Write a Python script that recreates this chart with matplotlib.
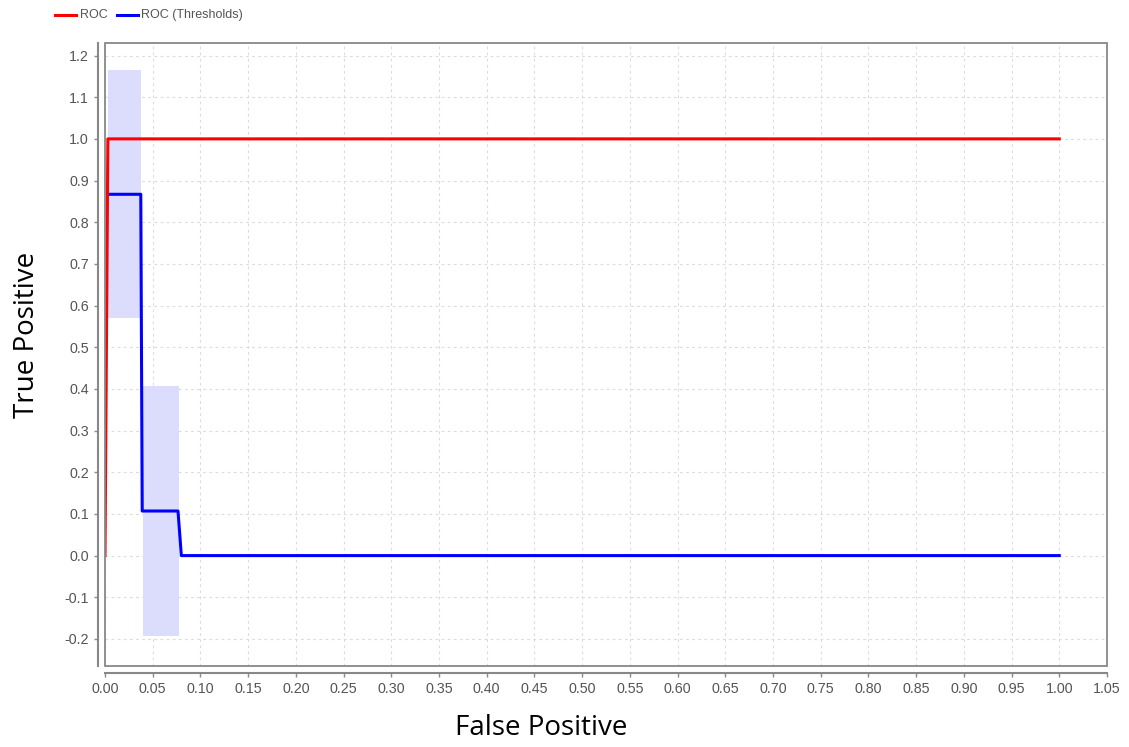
import matplotlib.pyplot as plt
from matplotlib.patches import Rectangle
import numpy as np

# ROC curve
roc_fp = [0.0, 0.003, 1.0]
roc_tp = [0.0, 1.0, 1.0]

# ROC (Thresholds) curve
thr_fp = [0.003, 0.0375, 0.039, 0.0765, 0.080, 1.0]
thr_tp = [0.867, 0.867, 0.107, 0.107, 0.0, 0.0]

# std bands around threshold steps
band_x0 = [0.003, 0.040]
band_x1 = [0.0375, 0.0775]
band_mean = [0.868, 0.107]
band_std = [0.297, 0.299]

xticks = np.round(np.arange(0, 1.051, 0.05), 2)
yticks = np.round(np.arange(-0.2, 1.21, 0.1), 1)

fig = plt.figure(figsize=(11.29, 7.47), dpi=100)
ax = fig.add_axes([0.093, 0.1084, 0.8875, 0.834])

for x0, x1, m, s in zip(band_x0, band_x1, band_mean, band_std):
    ax.fill_between([x0, x1], m - s, m + s, color="#dcdcfc", lw=0, zorder=1)

ax.plot(thr_fp, thr_tp, color="#0000ff", lw=2.2, zorder=3)
ax.plot(roc_fp, roc_tp, color="#ff0000", lw=2.2, zorder=4)

ax.set_xlim(0, 1.05)
ax.set_ylim(-0.265, 1.23)
ax.set_xticks(xticks)
ax.set_xticklabels([f"{v:.2f}" for v in xticks])
ax.set_yticks(yticks)
ax.set_yticklabels([f"{v:.1f}" for v in yticks])
ax.grid(True, color="#dcdcdc", ls=(0, (2.5, 3)), lw=0.8)
ax.set_axisbelow(True)

for side in ["top", "right"]:
    ax.spines[side].set_visible(False)
for side in ["left", "bottom"]:
    ax.spines[side].set_position(("outward", 5))
    ax.spines[side].set_color("#888888")
    ax.spines[side].set_linewidth(1.5)
ax.add_patch(Rectangle((0, 0), 1, 1, transform=ax.transAxes, fill=False,
                       ec="#888888", lw=1.3, clip_on=False, zorder=5))

ax.tick_params(colors="#888888", length=3, width=1, labelcolor="#555555",
               labelsize=10.3)
for lab in ax.get_xticklabels() + ax.get_yticklabels():
    lab.set_family("Liberation Sans")

fig.text(0.479, 0.025, "False Positive", ha="center", va="center",
         fontsize=20, family="Open Sans")
fig.text(0.024, 0.552, "True Positive", ha="center", va="center",
         fontsize=20, family="Open Sans", rotation=90)

# legend at top-left
fig.add_artist(plt.Line2D([0.049, 0.067], [0.980, 0.980], color="#ff0000", lw=2.2))
fig.text(0.071, 0.980, "ROC", fontsize=9, color="#555555", va="center",
         family="Liberation Sans")
fig.add_artist(plt.Line2D([0.104, 0.122], [0.980, 0.980], color="#0000ff", lw=2.2))
fig.text(0.125, 0.980, "ROC (Thresholds)", fontsize=9, color="#555555",
         va="center", family="Liberation Sans")

fig.savefig("out.png", dpi=100)
